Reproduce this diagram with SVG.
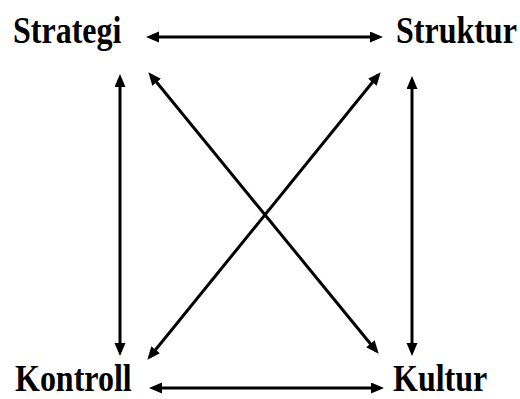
<svg xmlns="http://www.w3.org/2000/svg" width="520" height="399" viewBox="0 0 520 399">
  <defs>
    <marker id="ah" markerUnits="userSpaceOnUse" markerWidth="14" markerHeight="12" refX="9" refY="5.5" orient="auto-start-reverse">
      <path d="M0,0 L13,5.5 L0,11 z" fill="#000"/>
    </marker>
    <style>
      .lbl { font-family: "Liberation Serif", "Times New Roman", serif; font-weight: bold; font-size: 32px; fill: #000; }
      .con { stroke: #000; stroke-width: 3; fill: none; marker-start: url(#ah); marker-end: url(#ah); }
    </style>
  </defs>
  <rect width="520" height="399" fill="#fff"/>
  <g id="connectors">
    <line class="con" x1="150" y1="37" x2="379" y2="37"/>
    <line class="con" x1="153" y1="388" x2="380" y2="388"/>
    <line class="con" x1="120" y1="78" x2="120" y2="352"/>
    <line class="con" x1="412" y1="80" x2="412" y2="352"/>
    <line class="con" x1="150.9" y1="75.3" x2="376.1" y2="350.7"/>
    <line class="con" x1="378.1" y1="75.3" x2="149.9" y2="356.7"/>
  </g>
  <g id="strategi"><text class="lbl" transform="translate(13,43) scale(1,1.17)">Strategi</text></g>
  <g id="struktur"><text class="lbl" transform="translate(396,43) scale(1,1.17)">Struktur</text></g>
  <g id="kontroll"><text class="lbl" transform="translate(15,391) scale(1,1.17)">Kontroll</text></g>
  <g id="kultur"><text class="lbl" transform="translate(393,391) scale(1,1.17)">Kultur</text></g>
</svg>
